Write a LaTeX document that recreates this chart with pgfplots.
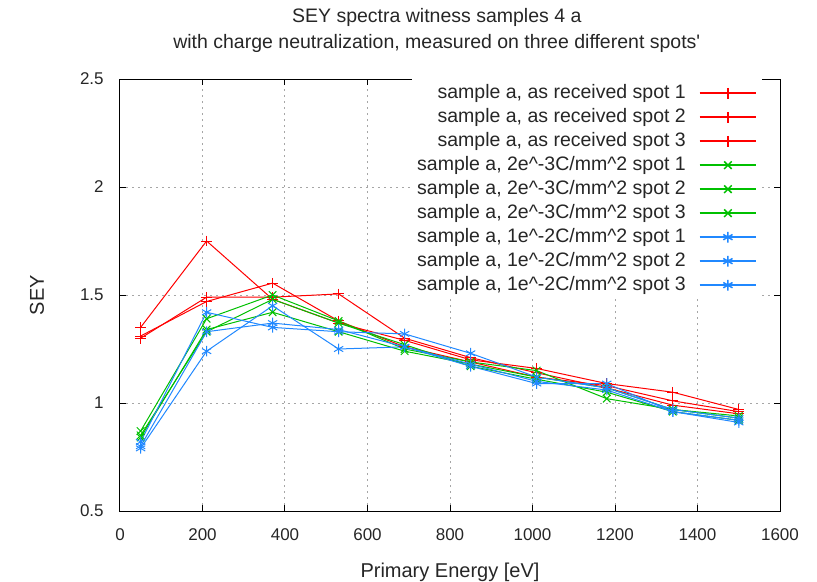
\documentclass[border=0pt]{standalone}
\usepackage{fontspec}
\setmainfont{Liberation Sans}
\usepackage{pgfplots}
\pgfplotsset{compat=1.18}
\definecolor{gpred}{RGB}{255,0,0}
\definecolor{gpgreen}{RGB}{0,192,0}
\definecolor{gpblue}{RGB}{32,136,255}
\begin{document}
\begin{tikzpicture}
\begin{axis}[
  scale only axis, width=396pt, height=259.2pt,
  xmin=0, xmax=1600, ymin=0.5, ymax=2.5,
  xtick={0,200,...,1600}, ytick={0.5,1,1.5,2,2.5},
  /pgf/number format/assume math mode=true,
  /pgf/number format/1000 sep={},
  tick label style={font=\fontsize{10.2}{12}\selectfont, text=black!85},
  yticklabel style={inner sep=0pt, xshift=-9.6pt},
  xticklabel style={inner sep=0pt, yshift=-10.2pt},
  tick align=inside, major tick length=3.6pt,
  every tick/.style={black, line width=0.6pt},
  axis line style={line width=0.6pt, black},
  grid=major,
  grid style={gray!70, dash pattern=on 1.2pt off 2.4pt, line width=0.6pt},
  title={SEY spectra witness samples 4 a\\with charge neutralization, measured on three different spots\textquotesingle},
  title style={at={(axis description cs:0.48,1)}, anchor=south, yshift=9.5pt, inner sep=0pt, align=center, font=\fontsize{11.7}{15.6}\selectfont, text=black!85},
  xlabel={Primary Energy [eV]},
  xlabel style={at={(axis description cs:0.5,0)}, anchor=north, yshift=-31pt, inner sep=0pt, font=\fontsize{12}{14}\selectfont, text=black!85},
  ylabel={SEY},
  ylabel style={at={([xshift=-49.8pt]axis description cs:0,0.5)}, anchor=center, inner sep=0pt, font=\fontsize{12}{14}\selectfont, text=black!85},
  legend style={at={(1,1)}, anchor=north east, xshift=-10.8pt, yshift=0pt, draw=none, fill=white, inner sep=3pt, outer sep=0pt, font=\fontsize{11.7}{14}\selectfont, text=black!85, row sep=3.4pt, column sep=7.8pt, nodes={inner sep=0pt, text height=8.4pt, text depth=2.6pt}},
  legend cell align=right, legend plot pos=right,
  legend image code/.code={\draw[mark repeat=2,mark phase=2, line width=0.9pt] plot coordinates {(0pt,0pt) (17pt,0pt) (34pt,0pt)};},
  every axis plot/.append style={line width=0.6pt, mark size=3.2pt, mark options={solid}},
]
\addplot[gpred, mark=+] coordinates {(50,1.35) (210,1.75) (370,1.48) (530,1.37) (690,1.29) (850,1.20) (1010,1.16) (1180,1.09) (1340,1.05) (1500,0.97)};
\addlegendentry{sample a, as received spot 1}
\addplot[gpred, mark=+] coordinates {(50,1.31) (210,1.47) (370,1.555) (530,1.38) (690,1.26) (850,1.19) (1010,1.12) (1180,1.08) (1340,1.01) (1500,0.96)};
\addlegendentry{sample a, as received spot 2}
\addplot[gpred, mark=+] coordinates {(50,1.30) (210,1.49) (370,1.49) (530,1.505) (690,1.30) (850,1.21) (1010,1.14) (1180,1.07) (1340,0.99) (1500,0.95)};
\addlegendentry{sample a, as received spot 3}
\addplot[gpgreen, mark=x] coordinates {(50,0.87) (210,1.39) (370,1.50) (530,1.38) (690,1.25) (850,1.19) (1010,1.15) (1180,1.02) (1340,0.97) (1500,0.93)};
\addlegendentry{sample a, 2e\textasciicircum-3C/mm\textasciicircum 2 spot 1}
\addplot[gpgreen, mark=x] coordinates {(50,0.85) (210,1.33) (370,1.48) (530,1.37) (690,1.27) (850,1.17) (1010,1.11) (1180,1.05) (1340,0.96) (1500,0.92)};
\addlegendentry{sample a, 2e\textasciicircum-3C/mm\textasciicircum 2 spot 2}
\addplot[gpgreen, mark=x] coordinates {(50,0.84) (210,1.34) (370,1.42) (530,1.33) (690,1.24) (850,1.18) (1010,1.12) (1180,1.07) (1340,0.97) (1500,0.94)};
\addlegendentry{sample a, 2e\textasciicircum-3C/mm\textasciicircum 2 spot 3}
\addplot[gpblue, mark=asterisk] coordinates {(50,0.82) (210,1.42) (370,1.35) (530,1.33) (690,1.32) (850,1.23) (1010,1.12) (1180,1.07) (1340,0.97) (1500,0.93)};
\addlegendentry{sample a, 1e\textasciicircum-2C/mm\textasciicircum 2 spot 1}
\addplot[gpblue, mark=asterisk] coordinates {(50,0.80) (210,1.33) (370,1.37) (530,1.34) (690,1.26) (850,1.17) (1010,1.09) (1180,1.09) (1340,0.96) (1500,0.91)};
\addlegendentry{sample a, 1e\textasciicircum-2C/mm\textasciicircum 2 spot 2}
\addplot[gpblue, mark=asterisk] coordinates {(50,0.79) (210,1.24) (370,1.45) (530,1.25) (690,1.26) (850,1.18) (1010,1.10) (1180,1.06) (1340,0.96) (1500,0.92)};
\addlegendentry{sample a, 1e\textasciicircum-2C/mm\textasciicircum 2 spot 3}
\end{axis}
\pgfresetboundingbox
\path ([shift={(-72pt,-42pt)}]current axis.south west) rectangle ([shift={(22.2pt,47.4pt)}]current axis.north east);
\end{tikzpicture}
\end{document}
